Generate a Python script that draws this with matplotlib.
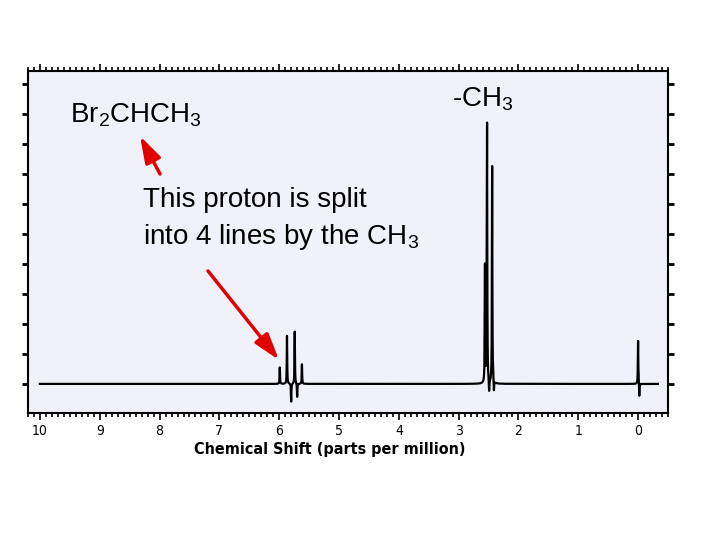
import numpy as np
import matplotlib
matplotlib.use('Agg')
import matplotlib.pyplot as plt
from matplotlib.ticker import MultipleLocator

plt.rcParams['mathtext.fontset'] = 'custom'
plt.rcParams['mathtext.rm'] = 'Liberation Sans'
plt.rcParams['mathtext.it'] = 'Liberation Sans'

# Señales del espectro (ppm, altura relativa)
peak_ppm = [5.99, 5.87, 5.74, 5.62, 2.56, 2.525, 2.44, 0.0]
peak_height = [0.55, 1.6, 1.75, 0.65, 3.9, 8.65, 7.25, 1.45]
# Artefactos negativos bajo las señales
dip_ppm = [5.80, 5.70, 2.49, 2.41, -0.02]
dip_height = [-0.6, -0.45, -0.4, -0.35, -0.45]
x_ticks = [10, 9, 8, 7, 6, 5, 4, 3, 2, 1, 0]

ppm = np.linspace(-0.33, 10.0, 30000)
spec = np.zeros_like(ppm)
w = 0.004                                                           # semi-ancho de línea
for p, h in zip(peak_ppm + dip_ppm, peak_height + dip_height):
    spec += h * w**2 / ((ppm - p)**2 + w**2)

fig = plt.figure(figsize=(7.2, 5.4), dpi=100)
ax = fig.add_axes([28/720, 1 - 413/540, 640/720, 342/540])
ax.set_facecolor('#f1f2f9')
ax.plot(ppm, spec, color='k', lw=1.6)

ax.set_xlim(10.2, -0.5)
ax.set_ylim(-0.97, 10.43)
ax.xaxis.set_major_locator(MultipleLocator(1))
ax.xaxis.set_minor_locator(MultipleLocator(0.1))
ax.yaxis.set_major_locator(MultipleLocator(1))
ax.set_xticks(x_ticks)
ax.set_xticklabels([str(t) for t in x_ticks])
ax.tick_params(axis='x', which='both', direction='out', top=True, bottom=True,
               labelsize=10, pad=3, width=1.2)
ax.tick_params(axis='x', which='major', length=5)
ax.tick_params(axis='x', which='minor', length=3)
ax.tick_params(axis='y', which='major', direction='out', left=True, right=True,
               labelleft=False, length=4, width=2)
for s in ax.spines.values():
    s.set_linewidth(1.5)
for lab in ax.get_xticklabels():
    lab.set_family('DejaVu Sans')
    lab.set_stretch('condensed')
ax.set_xlabel('Chemical Shift (parts per million)', fontsize=11.5,
              fontweight='bold', family='DejaVu Sans', fontstretch='condensed', labelpad=3)
ax.xaxis.set_label_coords((330 - 28) / 640, -0.085)

tf = dict(family='Liberation Sans', color='k', transform=fig.transFigure)
fig.text(70/720, 1 - 115/540, r'Br$_2$CHCH$_3$', fontsize=20, va='center', **tf)
fig.text(452/720, 1 - 99/540, r'-CH$_3$', fontsize=20, va='center', **tf)
fig.text(143/720, 1 - 200/540, 'This proton is split', fontsize=20, va='center', **tf)
fig.text(143/720, 1 - 237/540, r'into 4 lines by the CH$_3$', fontsize=20, va='center', **tf)

arrow = dict(arrowstyle='-|>,head_length=1.6,head_width=0.5', color='#e00000', lw=2.5,
             shrinkA=0, shrinkB=0)
ax.annotate('', xy=(140/720, 1 - 136/540), xytext=(160/720, 1 - 174/540),
            xycoords='figure fraction', textcoords='figure fraction', arrowprops=arrow)
ax.annotate('', xy=(279/720, 1 - 360/540), xytext=(208/720, 1 - 271/540),
            xycoords='figure fraction', textcoords='figure fraction', arrowprops=arrow)

fig.savefig('out.png', dpi=100)
